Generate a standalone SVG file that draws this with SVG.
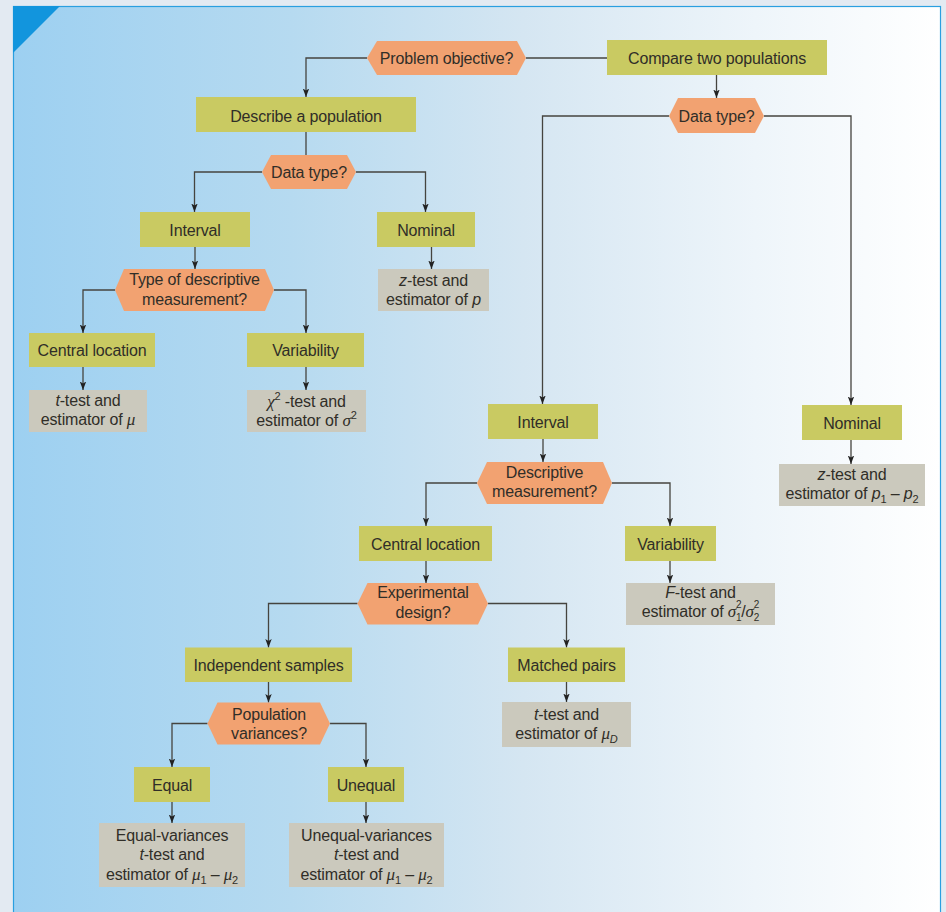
<svg xmlns="http://www.w3.org/2000/svg" width="946" height="912" viewBox="0 0 946 912">
<defs>
<linearGradient id="bg" x1="0" y1="0" x2="1" y2="0">
<stop offset="0" stop-color="#9dd0f1"/>
<stop offset="0.3" stop-color="#b6daf0"/>
<stop offset="0.55" stop-color="#d5e6f2"/>
<stop offset="0.8" stop-color="#eef5fa"/>
<stop offset="1" stop-color="#ffffff"/>
</linearGradient>
<marker id="arr" markerUnits="userSpaceOnUse" markerWidth="10" markerHeight="8" refX="8.5" refY="3.2" orient="auto">
<path d="M0,0 L8.5,3.2 L0,6.4 L2,3.2 Z" fill="#222"/>
</marker>
<style>
.g{fill:#c9ca62}
.o{fill:#f2a271}
.y{fill:#cbc9bd}
.c path{fill:none;stroke:#45443f;stroke-width:1.3}
.c .a{marker-end:url(#arr)}
text{font-family:"Liberation Sans",Arial,sans-serif;font-size:16px;fill:#302e28;text-anchor:middle;letter-spacing:-0.15px}
.i{font-style:italic}
.m{font-family:"Liberation Serif","Times New Roman",serif;font-style:italic;font-size:17px}
.s{font-size:11px}
.t{font-size:10px}
</style>
</defs>
<rect x="0" y="0" width="946" height="912" fill="#e3eaf2"/>
<rect x="13.5" y="6.5" width="927" height="920" fill="url(#bg)" stroke="#2a9fe0" stroke-width="1.2"/>
<polygon points="13,6 60,6 13,53" fill="#1295dd"/>

<g class="c" id="connectors">
<path class="a" d="M367,58 H306 V97"/>
<path d="M526,58 H607"/>
<path class="a" d="M716.5,75 V98"/>
<path d="M306,132 V155"/>
<path class="a" d="M262,172 H194.5 V212"/>
<path class="a" d="M356,172 H425.5 V212"/>
<path class="a" d="M195,247 V269"/>
<path class="a" d="M431.5,247 V269"/>
<path class="a" d="M115,290 H83 V333"/>
<path class="a" d="M274,290 H306 V333"/>
<path class="a" d="M83,367 V390"/>
<path class="a" d="M306,367 V390"/>
<path class="a" d="M669,116 H542.5 V404"/>
<path class="a" d="M764,116 H851 V405"/>
<path class="a" d="M543,439 V462"/>
<path class="a" d="M851,440 V464"/>
<path class="a" d="M477,483 H426 V526"/>
<path class="a" d="M612,483 H670 V526"/>
<path class="a" d="M426,561 V583"/>
<path class="a" d="M670,561 V583"/>
<path class="a" d="M357.5,603.5 H268.5 V647.5"/>
<path class="a" d="M488,603.5 H566.5 V647.5"/>
<path class="a" d="M268.5,682 V702.5"/>
<path class="a" d="M566.5,682 V702"/>
<path class="a" d="M207.5,723.5 H172 V767"/>
<path class="a" d="M330,723.5 H366 V767"/>
<path class="a" d="M172,802 V823"/>
<path class="a" d="M366,802 V823"/>
</g>

<g id="problem">
<polygon class="o" points="367,58 377,41 517,41 526,58 517,75 377,75"/>
<text x="446.5" y="64">Problem objective?</text>
</g>
<g id="compare">
<rect class="g" x="607" y="40" width="220" height="35"/>
<text x="717" y="64">Compare two populations</text>
</g>
<g id="describe">
<rect class="g" x="196" y="97" width="220" height="35"/>
<text x="306" y="121.5">Describe a population</text>
</g>
<g id="datatype1">
<polygon class="o" points="262,172 271,155 347,155 356,172 347,189 271,189"/>
<text x="309" y="178">Data type?</text>
</g>
<g id="interval1">
<rect class="g" x="140" y="212" width="110" height="35"/>
<text x="195" y="235.5">Interval</text>
</g>
<g id="nominal1">
<rect class="g" x="377" y="212" width="98" height="35"/>
<text x="426" y="235.5">Nominal</text>
</g>
<g id="ztest1">
<rect class="y" x="378" y="269" width="111" height="42"/>
<text x="433.5" y="285.5"><tspan class="i">z</tspan>-test and</text>
<text x="433.5" y="304.5">estimator of <tspan class="i">p</tspan></text>
</g>
<g id="typedesc">
<polygon class="o" points="115,290 124,269 265,269 274,290 265,311 124,311"/>
<text x="194.5" y="285">Type of descriptive</text>
<text x="194.5" y="304.5">measurement?</text>
</g>
<g id="central1">
<rect class="g" x="29" y="333" width="126" height="34"/>
<text x="92" y="356">Central location</text>
</g>
<g id="variability1">
<rect class="g" x="247" y="333" width="117" height="34"/>
<text x="305.5" y="356">Variability</text>
</g>
<g id="ttest1">
<rect class="y" x="29" y="390" width="118" height="42"/>
<text x="88" y="406"><tspan class="i">t</tspan>-test and</text>
<text x="88" y="425">estimator of <tspan class="m">μ</tspan></text>
</g>
<g id="chitest">
<rect class="y" x="247" y="390" width="119" height="42"/>
<text x="306.5" y="407"><tspan class="m">χ</tspan><tspan class="s" dy="-7">2</tspan><tspan dy="7"> -test and</tspan></text>
<text x="306.5" y="426">estimator of <tspan class="m">σ</tspan><tspan class="s" dy="-7">2</tspan></text>
</g>
<g id="datatype2">
<polygon class="o" points="669,116 678,98 755,98 764,116 755,133 678,133"/>
<text x="716.5" y="121.5">Data type?</text>
</g>
<g id="interval2">
<rect class="g" x="488" y="404" width="110" height="35"/>
<text x="543" y="427.5">Interval</text>
</g>
<g id="nominal2">
<rect class="g" x="802" y="405" width="100" height="35"/>
<text x="852" y="428.5">Nominal</text>
</g>
<g id="ztest2">
<rect class="y" x="779" y="464" width="146" height="42"/>
<text x="852" y="480"><tspan class="i">z</tspan>-test and</text>
<text x="852" y="499">estimator of <tspan class="i">p</tspan><tspan class="s" dy="4">1</tspan><tspan dy="-4"> – </tspan><tspan class="i">p</tspan><tspan class="s" dy="4">2</tspan></text>
</g>
<g id="descmeas">
<polygon class="o" points="477,483 487,462 603,462 612,483 603,504 487,504"/>
<text x="544.5" y="478">Descriptive</text>
<text x="544.5" y="497">measurement?</text>
</g>
<g id="central2">
<rect class="g" x="359" y="526" width="133" height="35"/>
<text x="425.5" y="550">Central location</text>
</g>
<g id="variability2">
<rect class="g" x="625" y="526" width="91" height="35"/>
<text x="670.5" y="550">Variability</text>
</g>
<g id="ftest">
<rect class="y" x="626" y="583" width="149" height="42"/>
<text x="700.5" y="597.5"><tspan class="i">F</tspan>-test and</text>
<text x="700.5" y="616.5">estimator of <tspan class="m">σ</tspan><tspan class="t" dy="-8.5">2</tspan><tspan class="t" dx="-5.6" dy="12.5">1</tspan><tspan dy="-4">/</tspan><tspan class="m">σ</tspan><tspan class="t" dy="-8.5">2</tspan><tspan class="t" dx="-5.6" dy="12.5">2</tspan></text>
</g>
<g id="expdesign">
<polygon class="o" points="357.5,603.5 367.5,583 478,583 488,603.5 478,624.5 367.5,624.5"/>
<text x="423" y="597.5">Experimental</text>
<text x="423" y="617.5">design?</text>
</g>
<g id="independent">
<rect class="g" x="185" y="647.5" width="167" height="34.5"/>
<text x="268.5" y="670.5">Independent samples</text>
</g>
<g id="matched">
<rect class="g" x="508" y="647.5" width="117" height="34.5"/>
<text x="566.5" y="670.5">Matched pairs</text>
</g>
<g id="ttestD">
<rect class="y" x="502" y="702" width="129" height="45"/>
<text x="566.5" y="719.5"><tspan class="i">t</tspan>-test and</text>
<text x="566.5" y="739">estimator of <tspan class="m">μ</tspan><tspan class="s i" dy="4">D</tspan></text>
</g>
<g id="popvar">
<polygon class="o" points="207.5,723.5 217.5,702.5 320,702.5 330,723.5 320,744.5 217.5,744.5"/>
<text x="269" y="719.5">Population</text>
<text x="269" y="739">variances?</text>
</g>
<g id="equal">
<rect class="g" x="134" y="767" width="76" height="35"/>
<text x="172" y="790.5">Equal</text>
</g>
<g id="unequal">
<rect class="g" x="328" y="767" width="76" height="35"/>
<text x="366" y="790.5">Unequal</text>
</g>
<g id="eqvar">
<rect class="y" x="99" y="823" width="146" height="64"/>
<text x="172" y="840.5">Equal-variances</text>
<text x="172" y="860"><tspan class="i">t</tspan>-test and</text>
<text x="172" y="879.5">estimator of <tspan class="m">μ</tspan><tspan class="s" dy="4">1</tspan><tspan dy="-4"> – </tspan><tspan class="m">μ</tspan><tspan class="s" dy="4">2</tspan></text>
</g>
<g id="uneqvar">
<rect class="y" x="289" y="823" width="155" height="64"/>
<text x="366.5" y="840.5">Unequal-variances</text>
<text x="366.5" y="860"><tspan class="i">t</tspan>-test and</text>
<text x="366.5" y="879.5">estimator of <tspan class="m">μ</tspan><tspan class="s" dy="4">1</tspan><tspan dy="-4"> – </tspan><tspan class="m">μ</tspan><tspan class="s" dy="4">2</tspan></text>
</g>
</svg>
